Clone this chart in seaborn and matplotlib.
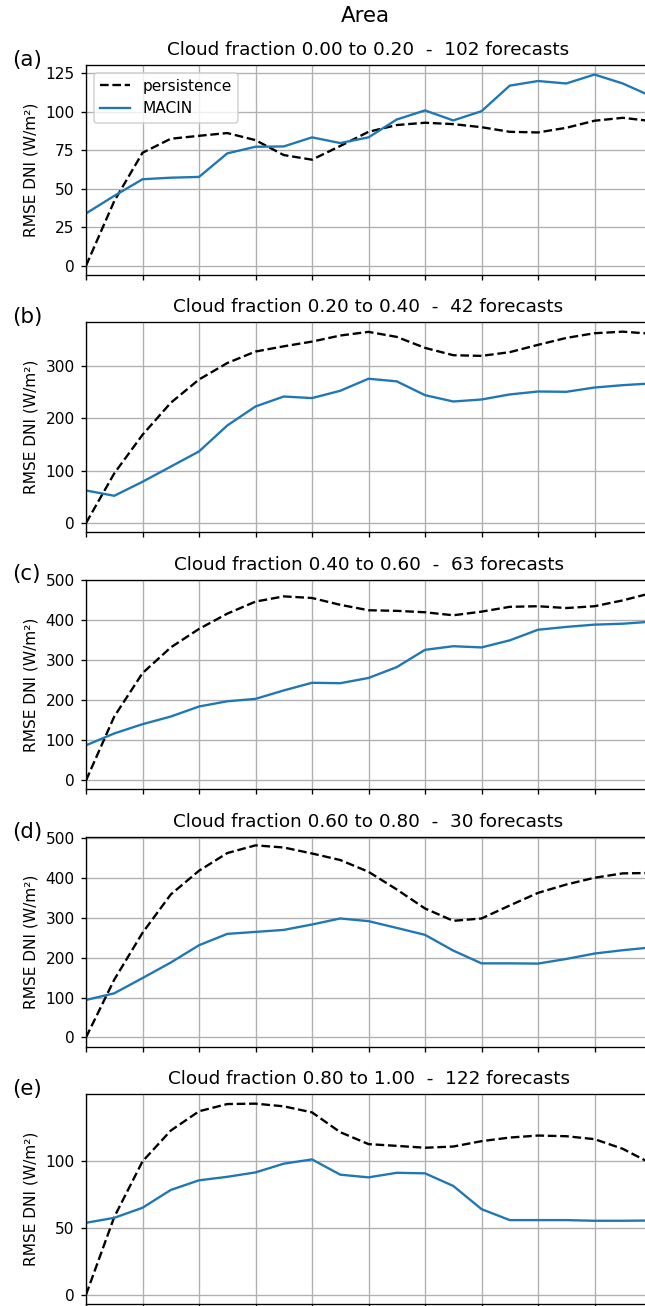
import seaborn as sns
import matplotlib.pyplot as plt
import pandas as pd

# lead time steps (x axis, no tick labels shown)
lead = list(range(21))

panel_labels = ["(a)", "(b)", "(c)", "(d)", "(e)"]
titles = [
    "Cloud fraction 0.00 to 0.20  -  102 forecasts",
    "Cloud fraction 0.20 to 0.40  -  42 forecasts",
    "Cloud fraction 0.40 to 0.60  -  63 forecasts",
    "Cloud fraction 0.60 to 0.80  -  30 forecasts",
    "Cloud fraction 0.80 to 1.00  -  122 forecasts",
]

persistence_a = [0, 42, 73.4, 82.5, 84.4, 86.2, 81.6, 71.9, 68.9, 77.8, 87,
                 91.4, 92.9, 92, 90, 87, 86.6, 89.6, 94.2, 96.1, 94]
macin_a = [34, 45.4, 56.2, 57.2, 57.7, 73, 77.3, 77.5, 83.4, 79.7, 83.4,
           95, 100.9, 94.4, 100.4, 117, 120, 118.4, 124.2, 118.4, 110.2]

persistence_b = [0, 95, 168.8, 230, 274.5, 306, 328, 338, 347, 358.6, 365.6,
                 356, 335, 321, 319.7, 326.8, 340.8, 354, 363, 366, 362]
macin_b = [62.4, 52.2, 79, 108, 137, 186.6, 223, 242, 239, 253, 276,
           271, 244.6, 232.5, 236.3, 246, 251.6, 251, 259.2, 263.7, 267]

persistence_c = [0, 159, 267, 331, 377, 415, 445, 458, 454, 437, 423.5,
                 422, 418.5, 411, 420, 432, 433.5, 429, 433.5, 448, 466]
macin_c = [87.4, 117, 140, 159, 184, 197, 203, 224, 243, 242, 255,
           282, 325, 334, 331, 348.6, 375, 382, 387.7, 390, 395]

persistence_d = [0, 145, 262.6, 359, 418.6, 463, 482.4, 477, 462, 445.5, 416,
                 371.6, 323.8, 292.8, 298.7, 331.4, 363, 384, 401, 412, 413]
macin_d = [94, 110.7, 149, 188, 231.5, 260, 265, 270, 283.6, 298.7, 292,
           275, 257.6, 218, 186, 186, 185.4, 197, 210.6, 219, 226]

persistence_e = [0, 58, 99.5, 122.5, 136.9, 142.3, 142.6, 140.6, 136.1, 121.3, 112.4,
                 111.1, 109.7, 110.6, 114.6, 117.3, 118.8, 118.3, 116.1, 108.9, 98]
macin_e = [53.7, 57.4, 64.9, 78.2, 85.4, 88, 91.3, 97.8, 101, 89.6, 87.6,
           91, 90.6, 81.2, 63.9, 55.7, 55.7, 55.7, 55.2, 55.2, 55.4]

persistence = [persistence_a, persistence_b, persistence_c, persistence_d, persistence_e]
macin = [macin_a, macin_b, macin_c, macin_d, macin_e]

yticks = [[0, 25, 50, 75, 100, 125], [0, 100, 200, 300], [0, 100, 200, 300, 400, 500],
          [0, 100, 200, 300, 400, 500], [0, 50, 100]]
ylims = [(-6.0, 130.4), (-17.5, 384), (-22.5, 500), (-23.5, 504), (-6.9, 149.8)]

# everything looks like default matplotlib scaled down a bit
plt.rcParams.update({
    "font.size": 9.2,
    "axes.titlesize": 11,
    "axes.labelsize": 9.2,
    "xtick.labelsize": 9.2,
    "ytick.labelsize": 9.2,
    "legend.fontsize": 9.2,
    "lines.linewidth": 1.4,
    "xtick.major.size": 3.2,
    "ytick.major.size": 3.2,
})

fig, axes = plt.subplots(5, 1, figsize=(645 / 120, 1306 / 120), dpi=120)
fig.subplots_adjust(left=86 / 645, right=651 / 645, top=1 - 65 / 1306,
                    bottom=2 / 1306, hspace=0.225)

for i, ax in enumerate(axes):
    df = pd.DataFrame({"lead": lead, "persistence": persistence[i], "MACIN": macin[i]})
    sns.lineplot(data=df, x="lead", y="persistence", ax=ax, color="black",
                 linestyle="--", label="persistence")
    sns.lineplot(data=df, x="lead", y="MACIN", ax=ax, color="#1f77b4", label="MACIN")
    ax.set_xlim(0, 20)
    ax.set_xticks(range(0, 21, 2))
    ax.tick_params(labelbottom=False)
    ax.set_yticks(yticks[i])
    ax.set_ylim(*ylims[i])
    ax.grid(True)
    ax.set_xlabel("")
    ax.set_ylabel("RMSE DNI (W/m²)")
    ax.set_title(titles[i])
    ax.text(-0.131, 1.024, panel_labels[i], transform=ax.transAxes,
            fontsize=12.8, va="center", ha="left")
    if i == 0:
        ax.legend(loc="upper left")
    else:
        ax.get_legend().remove()

fig.text(365 / 645, 1 - 16.5 / 1306, "Area", ha="center", va="center", fontsize=12.8)

fig.savefig("out.png", dpi=120)
